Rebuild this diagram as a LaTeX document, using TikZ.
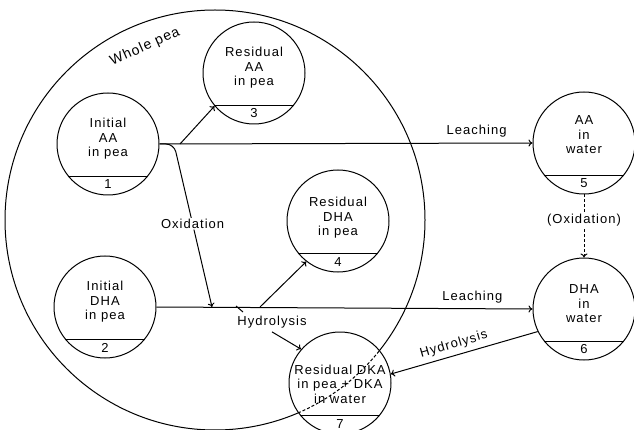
\documentclass[tikz,border=0pt]{standalone}
\usepackage{fontspec}
\setmainfont{Liberation Sans}[LetterSpace=8]
\usetikzlibrary{arrows.meta}

\begin{document}
\begin{tikzpicture}[x=1pt,y=-1pt,line width=1pt,>={To[length=4pt,width=7pt]},
		font=\fontsize{13}{14.5}\selectfont,
		pool/.style={circle,draw,fill=white,minimum size=102pt,inner sep=0pt},
		every label/.style={align=center,yshift=5pt},
		tag/.style={above=6pt,inner sep=0pt},
		gap/.style={fill=white,inner sep=1pt}]
	\useasboundingbox (0,0) rectangle (634,430);
	
	% Whole pea
	\coordinate (pea) at (215,220);
	\draw (pea) circle (210pt);
	\node[rotate=24,font=\fontsize{14}{16}\selectfont] (wp) at (145,47) {Whole pea};
	
	% The pools
	\node[pool,label={center:{Initial\\AA\\in pea}}] (n1) at (108,144) {};
	\node[pool,label={center:{Initial\\DHA\\in pea}}] (n2) at (105,307) {};
	\node[pool,label={center:{Residual\\AA\\in pea}}] (n3) at (254,73) {};
	\node[pool,label={[yshift=-2pt]center:{Residual\\DHA\\in pea}}] (n4) at (338,221) {};
	\node[pool,label={[yshift=3pt]center:{AA\\in\\water}}] (n5) at (584,143) {};
	\node[pool,label={center:{DHA\\in\\water}}] (n6) at (584,309) {};
	\node[pool,label={[yshift=-6pt]center:{Residual DKA\\in pea + DKA\\in water}}] (n7) at (340,383) {};
	
	% Pea skin inside pool 7
	\begin{scope}
		\clip (n7) circle (51pt);
		\draw[dash pattern=on 3pt off 2pt] (pea) circle (210pt);
	\end{scope}
	
	% Numbers
	\foreach \i in {1,...,7} {
		\draw (n\i.-141) -- (n\i.-39);
		\node[tag] at (n\i.south) {\i};
	}
	
	% Branch points
	\coordinate (f1) at (180,144);
	\coordinate (bend) at (174,144);
	\coordinate (f2) at (212,307);
	\coordinate (f3) at (260,307);
	\coordinate (t1) at (236,306);
	\coordinate (t2) at (243,312);
	
	% Leaching
	\draw[->] (n1.east) -- (n5.west) node[pos=0.85,above=2pt] {Leaching};
	\draw[->] (n2.east) -- (n6.west) node[pos=0.84,above=2pt] {Leaching};
	
	% In the pea
	\draw[->] (f1) -- (n3.-140);
	\draw[->,rounded corners=8pt] (n1.east) -- (bend) -- (f2) node[pos=0.49,gap] {Oxidation};
	\draw[->] (f3) -- (n4.-128);
	\node (hy1) at (272,322) {Hydrolysis};
	\draw (t1) -- (t2);
	\draw[->] (hy1.south) -- (n7.139);
	
	% In the water
	\draw[->,dash pattern=on 3pt off 2pt] (n5.south) -- (n6.north) node[pos=0.41,gap] {(Oxidation)};
	\draw[<-] (n7.10) -- (n6.-154) node[pos=0.45,sloped,above=1pt] {Hydrolysis};
\end{tikzpicture}
\end{document}
